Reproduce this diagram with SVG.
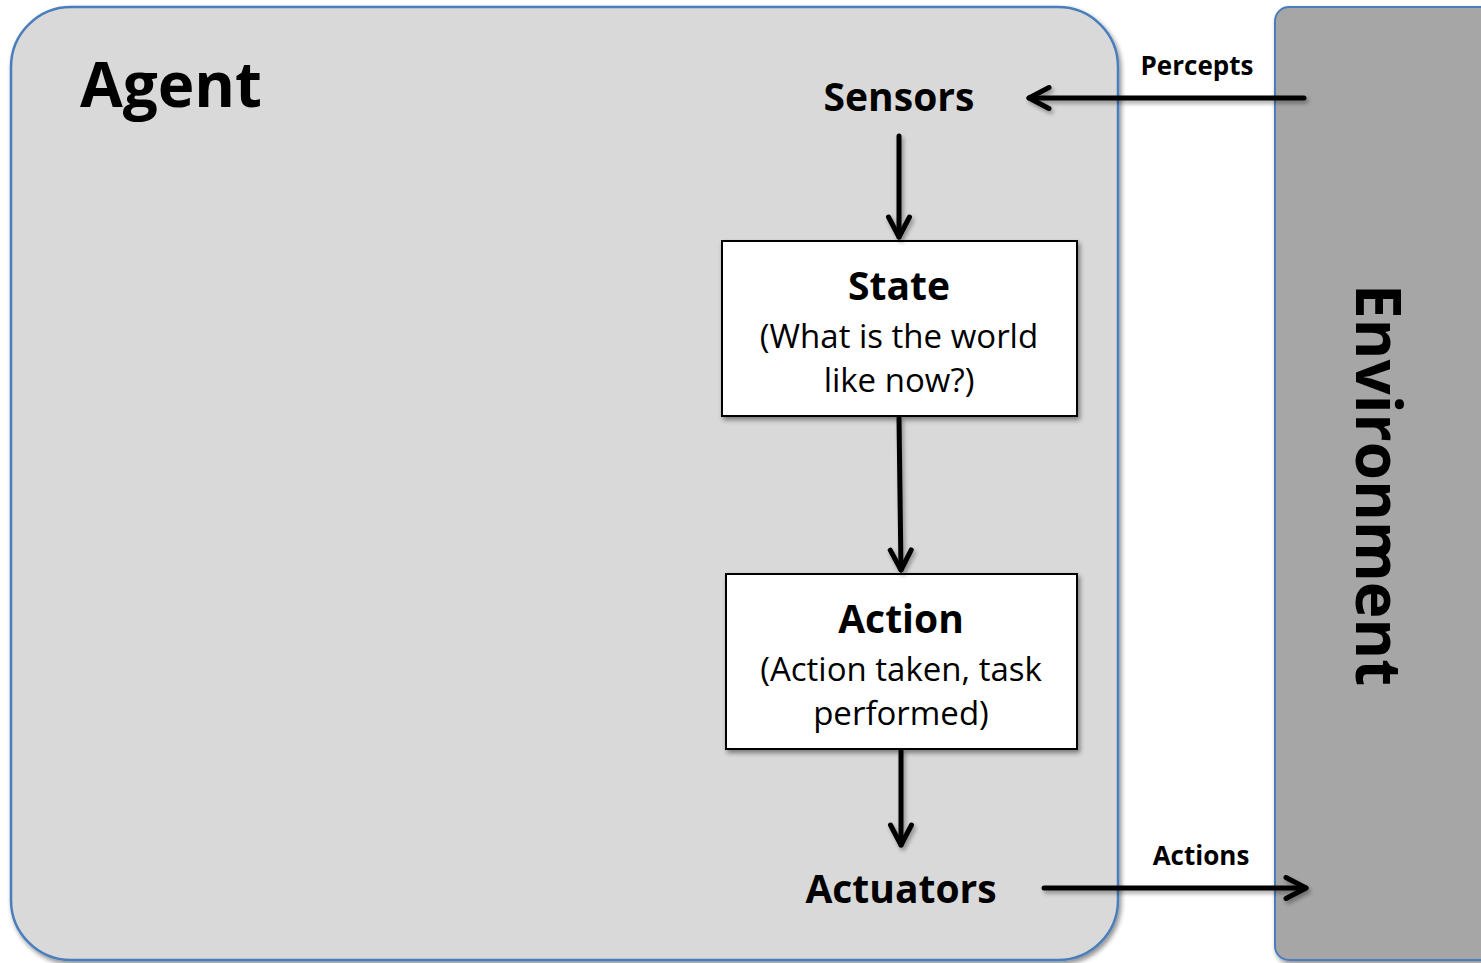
<svg xmlns="http://www.w3.org/2000/svg" width="1481" height="963" viewBox="0 0 1481 963">
  <defs>
    <filter id="shadow" x="-10%" y="-10%" width="120%" height="120%">
      <feGaussianBlur in="SourceAlpha" stdDeviation="2.5"/>
      <feOffset dx="2" dy="3" result="b"/>
      <feComponentTransfer><feFuncA type="linear" slope="0.45"/></feComponentTransfer>
      <feMerge><feMergeNode/><feMergeNode in="SourceGraphic"/></feMerge>
    </filter>
    <filter id="lineShadow" filterUnits="userSpaceOnUse" x="0" y="0" width="1481" height="963">
      <feGaussianBlur in="SourceAlpha" stdDeviation="2"/>
      <feOffset dx="2" dy="3" result="b"/>
      <feComponentTransfer><feFuncA type="linear" slope="0.35"/></feComponentTransfer>
      <feMerge><feMergeNode/><feMergeNode in="SourceGraphic"/></feMerge>
    </filter>
    <marker id="chev" viewBox="-26 -14 30 28" refX="0" refY="0" markerWidth="30" markerHeight="28" markerUnits="userSpaceOnUse" orient="auto">
      <path d="M-20,-10.5 L0,0 L-20,10.5" fill="none" stroke="#000" stroke-width="5" stroke-linecap="round" stroke-linejoin="round"/>
    </marker>
  </defs>
  <style>
    text { font-family: "Open Sans", "Noto Sans", "Liberation Sans", sans-serif; fill: #000; text-anchor: middle; }
    .b { font-weight: bold; }
    .box { fill: #fff; stroke: #000; stroke-width: 2; }
    .conn line { stroke: #000; stroke-width: 5; stroke-linecap: round; marker-end: url(#chev); }
  </style>
  <rect width="1481" height="963" fill="#fff"/>

  <g id="environment">
    <rect x="1275" y="7" width="230" height="953" rx="14" fill="#a6a6a6" stroke="#4a7ebb" stroke-width="2" filter="url(#shadow)"/>
    <text class="b" transform="translate(1378,485) rotate(90)" y="22" font-size="62">Environment</text>
  </g>

  <g id="agent">
    <rect x="11" y="7" width="1107" height="953" rx="60" fill="#d9d9d9" stroke="#4a7ebb" stroke-width="2.5" filter="url(#shadow)"/>
    <text class="b" x="171" y="107" font-size="62">Agent</text>
  </g>

  <g id="sensors">
    <text class="b" x="899" y="111" font-size="39">Sensors</text>
  </g>

  <g id="state">
    <rect class="box" x="722" y="241" width="355" height="175" filter="url(#shadow)"/>
    <text class="b" x="899" y="300" font-size="39">State</text>
    <text x="899" y="348" font-size="33">(What is the world</text>
    <text x="899" y="392" font-size="33">like now?)</text>
  </g>

  <g id="action">
    <rect class="box" x="726" y="574" width="351" height="175" filter="url(#shadow)"/>
    <text class="b" x="901" y="633" font-size="39">Action</text>
    <text x="901" y="681" font-size="33">(Action taken, task</text>
    <text x="901" y="725" font-size="33">performed)</text>
  </g>

  <g id="actuators">
    <text class="b" x="901" y="903" font-size="39">Actuators</text>
  </g>

  <g id="connectors" class="conn" filter="url(#lineShadow)">
    <line x1="1304" y1="98" x2="1029" y2="98"/>
    <line x1="899" y1="136" x2="899" y2="237"/>
    <line x1="899" y1="418" x2="901" y2="570"/>
    <line x1="901" y1="751" x2="901" y2="845"/>
    <line x1="1044" y1="888" x2="1306" y2="888"/>
  </g>
  <g id="connector-labels">
    <text class="b" x="1197" y="75" font-size="26">Percepts</text>
    <text class="b" x="1201" y="865" font-size="26">Actions</text>
  </g>
</svg>
